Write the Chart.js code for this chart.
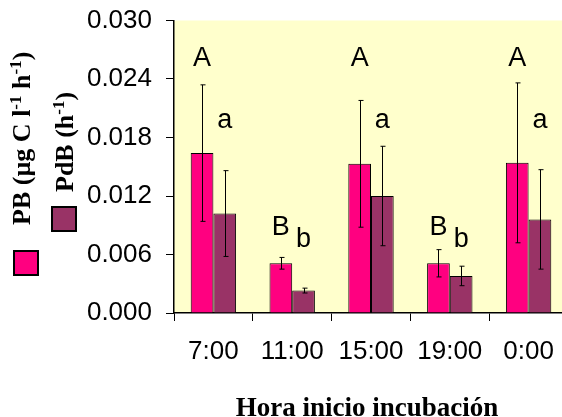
<!DOCTYPE html>
<html>
<head>
<meta charset="utf-8">
<script src="https://cdn.jsdelivr.net/npm/chart.js@4/dist/chart.umd.min.js"></script>
<style>
html,body{margin:0;padding:0;background:#fff;overflow:hidden;width:562px;height:417px;}
canvas{display:block;}
</style>
</head>
<body>
<canvas id="c" width="572" height="417"></canvas>
<script>
const categories = ['7:00', '11:00', '15:00', '19:00', '0:00'];
const pbValues  = [0.0164, 0.0051, 0.0153, 0.0051, 0.0154];
const pbErrors  = [0.0070, 0.0006, 0.0065, 0.0014, 0.0082];
const pdbValues = [0.0102, 0.0023, 0.0120, 0.0038, 0.0096];
const pdbErrors = [0.0044, 0.00025, 0.0051, 0.0010, 0.0051];
const pbLetters  = ['A', 'B', 'A', 'B', 'A'];
const pdbLetters = ['a', 'b', 'a', 'b', 'a'];
const yTicks = [0, 0.006, 0.012, 0.018, 0.024, 0.030];
const xTitle = 'Hora inicio incubación';

const PINK = '#FF0080', PURPLE = '#993366', BG = '#FFFFCC';

const plotBg = {
  id: 'plotBg',
  beforeDraw(chart) {
    const {ctx, chartArea: a} = chart;
    ctx.save();
    ctx.fillStyle = BG;
    ctx.fillRect(a.left, a.top, a.right - a.left, a.bottom - a.top);
    ctx.restore();
  }
};

const errorBars = {
  id: 'errorBars',
  afterDatasetsDraw(chart) {
    const ctx = chart.ctx, y = chart.scales.y;
    const errs = [pbErrors, pdbErrors];
    ctx.save();
    ctx.strokeStyle = '#000';
    ctx.lineWidth = 1;
    chart.data.datasets.forEach((ds, di) => {
      const meta = chart.getDatasetMeta(di);
      meta.data.forEach((bar, i) => {
        const v = ds.data[i], e = errs[di][i];
        const x = Math.round(bar.x) + 0.5;
        const yt = y.getPixelForValue(v + e), yb = y.getPixelForValue(v - e);
        ctx.beginPath();
        ctx.moveTo(x, yt); ctx.lineTo(x, yb);
        ctx.moveTo(x - 2, yt); ctx.lineTo(x + 3, yt);
        ctx.moveTo(x - 2, yb); ctx.lineTo(x + 3, yb);
        ctx.stroke();
      });
    });
    ctx.restore();
  }
};

const letterLevels = {A: 0.0253, a: 0.0190, B: 0.0080, b: 0.0068};
const letters = {
  id: 'letters',
  afterDatasetsDraw(chart) {
    const ctx = chart.ctx, y = chart.scales.y;
    const sets = [pbLetters, pdbLetters];
    ctx.save();
    ctx.fillStyle = '#000';
    ctx.font = '27px "Liberation Sans", Arial, sans-serif';
    ctx.textAlign = 'center';
    ctx.textBaseline = 'alphabetic';
    sets.forEach((ls, di) => {
      const meta = chart.getDatasetMeta(di);
      ls.forEach((l, i) => {
        ctx.fillText(l, meta.data[i].x, y.getPixelForValue(letterLevels[l]));
      });
    });
    ctx.restore();
  }
};

function drawRotatedLabel(ctx, parts, x, y) {
  ctx.save();
  ctx.translate(x, y);
  ctx.rotate(-Math.PI / 2);
  ctx.textBaseline = 'alphabetic';
  ctx.textAlign = 'left';
  let pos = 0;
  parts.forEach(p => {
    if (p.sup) {
      ctx.font = 'bold 17px "Liberation Serif", "Times New Roman", serif';
      ctx.fillText(p.t, pos, -9);
    } else {
      ctx.font = 'bold 26px "Liberation Serif", "Times New Roman", serif';
      ctx.fillText(p.t, pos, 0);
    }
    pos += ctx.measureText(p.t).width;
  });
  ctx.restore();
}

const sideLegend = {
  id: 'sideLegend',
  afterDraw(chart) {
    const ctx = chart.ctx;
    ctx.save();
    ctx.fillStyle = '#000';
    drawRotatedLabel(ctx, [{t: 'PB (µg C l'}, {t: '-1', sup: true}, {t: ' h'}, {t: '-1', sup: true}, {t: ')'}], 30, 225);
    drawRotatedLabel(ctx, [{t: 'PdB (h'}, {t: '-1', sup: true}, {t: ')'}], 73, 192);
    ctx.lineWidth = 2;
    ctx.strokeStyle = '#000';
    ctx.fillStyle = PINK;
    ctx.fillRect(14, 251, 24, 24); ctx.strokeRect(14, 251, 24, 24);
    ctx.fillStyle = PURPLE;
    ctx.fillRect(52, 207, 24, 24); ctx.strokeRect(52, 207, 24, 24);
    const a = chart.chartArea;
    ctx.fillStyle = '#000';
    ctx.font = 'bold 27px "Liberation Serif", "Times New Roman", serif';
    ctx.textAlign = 'center';
    ctx.textBaseline = 'alphabetic';
    ctx.fillText(xTitle, (a.left + a.right) / 2 - 4, 416);
    ctx.restore();
  }
};

new Chart(document.getElementById('c'), {
  type: 'bar',
  data: {
    labels: categories,
    datasets: [
      {label: 'PB (µg C l-1 h-1)', data: pbValues, backgroundColor: PINK, borderColor: '#000', borderWidth: 1},
      {label: 'PdB (h-1)', data: pdbValues, backgroundColor: PURPLE, borderColor: '#000', borderWidth: 1}
    ]
  },
  options: {
    responsive: false,
    animation: false,
    devicePixelRatio: 1,
    layout: {padding: {top: 19, right: 4, left: 0, bottom: 0}},
    datasets: {bar: {barPercentage: 1, categoryPercentage: 0.576}},
    plugins: {legend: {display: false}, tooltip: {enabled: false}},
    scales: {
      x: {
        grid: {display: true, drawOnChartArea: false, drawTicks: true, tickLength: 8, color: '#000', offset: true},
        border: {display: true, color: '#000', width: 1.5},
        ticks: {color: '#000', font: {family: '"Liberation Sans", Arial, sans-serif', size: 26}, padding: 15, maxRotation: 0},
        afterFit(s) { s.height = 104; }
      },
      y: {
        min: 0, max: 0.030,
        afterBuildTicks(s) { s.ticks = yTicks.map(v => ({value: v})); },
        grid: {display: true, drawOnChartArea: false, drawTicks: true, tickLength: 8, color: '#000'},
        border: {display: true, color: '#000', width: 1.5},
        ticks: {color: '#000', font: {family: '"Liberation Sans", Arial, sans-serif', size: 26, lineHeight: 0.5}, padding: 14,
                callback: v => Number(v).toFixed(3)},
        afterFit(s) { s.width = 174; }
      }
    }
  },
  plugins: [plotBg, errorBars, letters, sideLegend]
});
</script>
</body>
</html>
